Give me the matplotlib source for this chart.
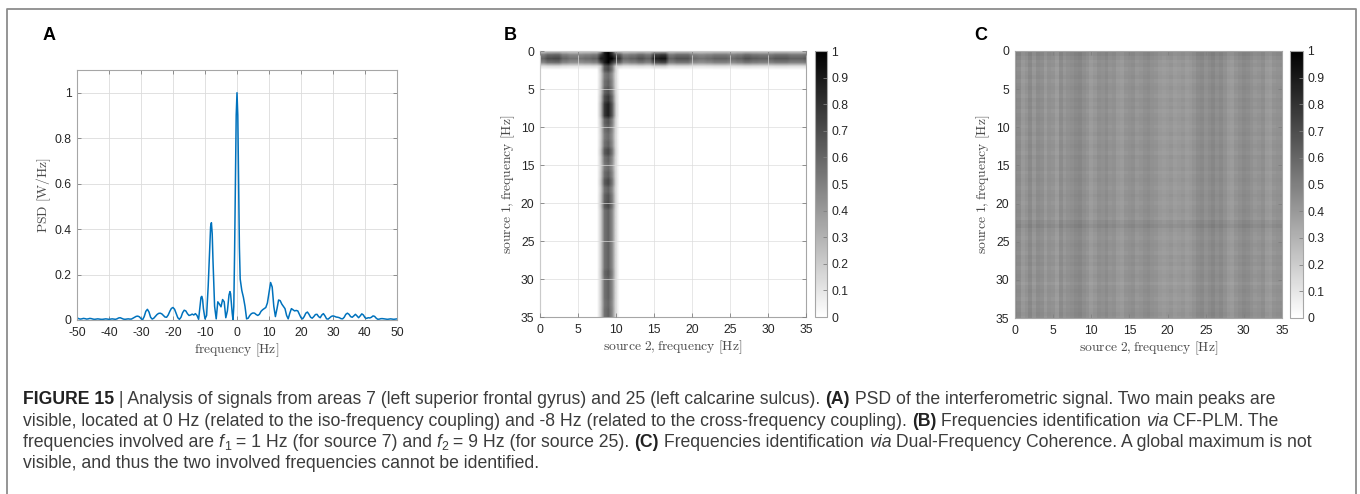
import numpy as np
import matplotlib
matplotlib.use("Agg")
import matplotlib.pyplot as plt
from matplotlib.lines import Line2D

plt.rcParams['mathtext.fontset'] = 'cm'
plt.rcParams['font.family'] = ['Liberation Sans', 'DejaVu Sans']
plt.rcParams['axes.unicode_minus'] = False

W, H = 1360, 494

# ---------------- Panel A data: PSD of interferometric signal ----------------
psd_freq = [-50, -49.5, -49, -48.5, -48, -47.5, -47, -46.5, -46, -45.5, -45, -44.5, -44, -43.5, -43,
            -42.5, -42, -41.5, -41, -40.5, -40, -39.5, -39, -38.5, -38, -37.5, -37, -36.5, -36, -35.5,
            -35, -34.5, -34, -33.5, -33, -32.5, -32, -31.5, -31, -30.5, -30, -29.5, -29, -28.5, -28,
            -27.5, -27, -26.5, -26, -25.5, -25, -24.5, -24, -23.5, -23, -22.5, -22, -21.5, -21, -20.5,
            -20, -19.5, -19, -18.5, -18, -17.5, -17, -16.5, -16, -15.5, -15, -14.5, -14, -13.5, -13,
            -12.5, -12, -11.5, -11.25, -11, -10.75, -10.5, -10, -9.5, -9, -8.5, -8.25, -8, -7.75, -7.5,
            -7, -6.5, -6, -5.5, -5, -4.5, -4, -3.5, -3, -2.5, -2.2, -2, -1.5, -1.25, -1, -0.75, -0.5,
            -0.25, 0, 0.25, 0.5, 0.75, 1, 1.5, 2, 2.5, 3, 3.5, 4, 4.5, 5, 5.5, 6, 6.5, 7, 7.5, 8, 8.5,
            9, 9.5, 10, 10.5, 11, 11.5, 12, 12.5, 13, 13.5, 14, 14.5, 15, 15.5, 16, 16.5, 17, 17.5, 18,
            18.5, 19, 19.5, 20, 20.5, 21, 21.5, 22, 22.5, 23, 23.5, 24, 24.5, 25, 25.5, 26, 26.5, 27,
            27.5, 28, 28.5, 29, 29.5, 30, 30.5, 31, 31.5, 32, 32.5, 33, 33.5, 34, 34.5, 35, 35.5, 36,
            36.5, 37, 37.5, 38, 38.5, 39, 39.5, 40, 40.5, 41, 41.5, 42, 42.5, 43, 43.5, 44, 44.5, 45,
            45.5, 46, 46.5, 47, 47.5, 48, 48.5, 49, 49.5, 50]
psd_value = [0.010, 0.006, 0.004, 0.005, 0.007, 0.006, 0.004, 0.005, 0.007, 0.006, 0.004, 0.003, 0.004,
             0.005, 0.004, 0.003, 0.003, 0.004, 0.005, 0.004, 0.003, 0.004, 0.005, 0.004, 0.003, 0.005,
             0.009, 0.010, 0.007, 0.004, 0.003, 0.004, 0.005, 0.004, 0.004, 0.008, 0.012, 0.016, 0.017,
             0.014, 0.006, 0.001, 0.015, 0.038, 0.047, 0.035, 0.012, 0.004, 0.008, 0.016, 0.024, 0.029,
             0.030, 0.027, 0.020, 0.013, 0.012, 0.022, 0.038, 0.051, 0.055, 0.047, 0.028, 0.010, 0.003,
             0.012, 0.032, 0.043, 0.040, 0.028, 0.020, 0.022, 0.026, 0.022, 0.028, 0.020, 0.003, 0.070,
             0.100, 0.104, 0.090, 0.050, 0.005, 0.020, 0.150, 0.330, 0.410, 0.428, 0.380, 0.260, 0.060,
             0.005, 0.080, 0.070, 0.058, 0.090, 0.080, 0.010, 0.040, 0.110, 0.125, 0.115, 0.030, 0.000,
             0.060, 0.300, 0.620, 0.900, 1.000, 0.900, 0.620, 0.320, 0.180, 0.130, 0.100, 0.060, 0.005,
             0.008, 0.020, 0.028, 0.031, 0.030, 0.024, 0.020, 0.025, 0.038, 0.045, 0.050, 0.055, 0.075,
             0.120, 0.165, 0.145, 0.060, 0.015, 0.050, 0.088, 0.085, 0.070, 0.060, 0.050, 0.020, 0.005,
             0.030, 0.050, 0.045, 0.040, 0.042, 0.040, 0.025, 0.010, 0.005, 0.015, 0.030, 0.035, 0.025,
             0.012, 0.008, 0.015, 0.024, 0.025, 0.015, 0.010, 0.022, 0.028, 0.018, 0.005, 0.004, 0.010,
             0.016, 0.018, 0.016, 0.013, 0.012, 0.010, 0.006, 0.005, 0.012, 0.025, 0.030, 0.025, 0.015,
             0.012, 0.018, 0.025, 0.018, 0.010, 0.018, 0.027, 0.022, 0.010, 0.007, 0.010, 0.009, 0.012,
             0.018, 0.016, 0.008, 0.003, 0.004, 0.006, 0.006, 0.005, 0.004, 0.003, 0.004, 0.005, 0.004,
             0.003, 0.004, 0.005]

# ---------------- Panel B data: CF-PLM map ----------------
# intensity along the horizontal band (source 1 = f1 = 1 Hz) vs source 2 frequency (0..35 Hz)
band_row_intensity = [0.60, 0.70, 0.72, 0.60, 0.55, 0.55, 0.58, 0.62, 0.88, 1.00, 0.78, 0.58, 0.62, 0.68,
                      0.62, 0.88, 0.92, 0.62, 0.68, 0.68, 0.58, 0.55, 0.58, 0.62, 0.62, 0.58, 0.62, 0.68,
                      0.64, 0.62, 0.62, 0.66, 0.66, 0.62, 0.62, 0.66]
# intensity along the vertical band (source 2 = f2 = 9 Hz) vs source 1 frequency (0..35 Hz)
band_col_intensity = [1.00, 1.00, 0.72, 0.58, 0.62, 0.68, 0.78, 0.88, 0.88, 0.68, 0.62, 0.58, 0.62, 0.72,
                      0.62, 0.58, 0.64, 0.72, 0.62, 0.68, 0.72, 0.62, 0.62, 0.62, 0.62, 0.62, 0.62, 0.62,
                      0.62, 0.66, 0.62, 0.62, 0.62, 0.60, 0.62, 0.62]
f1_center, f2_center = 1.0, 9.0
band_offsets = [-1.5, -1.0, -0.5, 0.0, 0.5, 1.0, 1.5]
band_weight_row = [0.0, 0.25, 0.85, 1.00, 0.80, 0.20, 0.0]
band_weight_col = [0.0, 0.30, 0.90, 1.00, 0.75, 0.20, 0.0]

# ---------------- Panel C data: dual-frequency coherence ----------------
dfc_base = 0.42
dfc_col_offset = [0.05, 0.03, -0.02, 0.00, 0.04, -0.01, 0.03, 0.02, -0.02, 0.01, 0.00, -0.03, 0.03,
                  -0.01, 0.01, 0.02, 0.04, 0.05, 0.02, 0.00, -0.03, -0.01, 0.02, 0.01, 0.03, 0.00,
                  0.01, -0.02, -0.03, 0.00, 0.01, 0.02, -0.01, 0.00, 0.02, 0.03, 0.01, 0.00, -0.02,
                  -0.03, -0.02, -0.01, -0.03, -0.02, -0.01, -0.03, -0.02, 0.00, 0.03, 0.04, 0.01,
                  0.03, 0.05, 0.02, 0.04, 0.01, -0.02, -0.03, 0.00, 0.02, 0.04, 0.03, 0.01, -0.01,
                  0.00, 0.02, -0.02, -0.03, 0.00, 0.01, 0.02]
dfc_row_offset = [0.03, 0.04, 0.02, 0.00, 0.01, -0.01, 0.00, 0.01, -0.01, 0.00, 0.01, 0.00, -0.01,
                  0.01, 0.00, 0.01, -0.01, 0.00, 0.01, 0.00, -0.01, 0.00, 0.01, -0.01, 0.00, 0.01,
                  0.00, -0.01, 0.01, 0.00, 0.00, 0.01, -0.01, 0.00, 0.01, 0.00, -0.01, 0.00, 0.01,
                  0.00, -0.01, 0.00, 0.01, 0.00, -0.01, 0.02, 0.04, 0.01, 0.00, -0.01, 0.00, 0.01,
                  0.00, -0.01, 0.01, 0.00, 0.01, -0.01, 0.00, 0.01, 0.00, -0.02, 0.00, 0.01, 0.00,
                  -0.01, 0.01, 0.00, 0.01, 0.02, 0.01]

tick_color = '#262626'
label_color = '#4a4a4a'
frame_color = '#a6a6a6'
grid_color = '#dcdcdc'
TICK_SIZE = 8.7
LABEL_SIZE = 9.8


def style_axes(ax):
    for s in ax.spines.values():
        s.set_color(frame_color)
        s.set_linewidth(0.8)
    ax.tick_params(direction='in', length=3, width=0.6, color='#808080', labelcolor=tick_color,
                   labelsize=TICK_SIZE, top=True, right=True)
    ax.tick_params(axis='x', pad=5)
    ax.tick_params(axis='y', pad=4)


fig = plt.figure(figsize=(W / 100, H / 100), dpi=100)

# outer frame
fig.add_artist(Line2D([7 / W, 7 / W, 1356 / W, 1356 / W], [0, 1 - 9 / H, 1 - 9 / H, 0],
                      transform=fig.transFigure, color='#8c8c8c', lw=1.3))

# ---------------- Panel A ----------------
axA = fig.add_axes([77 / W, 1 - 320 / H, 320 / W, 250 / H])
axA.plot(psd_freq, psd_value, color='#0072BD', lw=1.1)
axA.set_xlim(-50, 50)
axA.set_ylim(0, 1.1)
axA.set_xticks(range(-50, 51, 10))
axA.set_yticks([0, 0.2, 0.4, 0.6, 0.8, 1])
axA.set_yticklabels(['0', '0.2', '0.4', '0.6', '0.8', '1'])
axA.grid(True, color=grid_color, lw=0.6)
axA.set_axisbelow(True)
style_axes(axA)
axA.set_xlabel(r'$\mathrm{frequency\ [Hz]}$', fontsize=LABEL_SIZE, color=label_color, labelpad=2)
axA.set_ylabel(r'$\mathrm{PSD\ [W/Hz]}$', fontsize=LABEL_SIZE, color=label_color, labelpad=1)

# ---------------- Panel B ----------------
fgrid = np.arange(0, 35.01, 0.5)
idx = np.floor(fgrid).astype(int)
row_int = np.array(band_row_intensity)[idx]
col_int = np.array(band_col_intensity)[idx]
w_row = np.interp(fgrid - f1_center, band_offsets, band_weight_row, left=0, right=0)
w_col = np.interp(fgrid - f2_center, band_offsets, band_weight_col, left=0, right=0)
plm = np.maximum(w_row[:, None] * row_int[None, :], col_int[:, None] * w_col[None, :])

axB = fig.add_axes([540 / W, 1 - 317 / H, 266 / W, 266 / H])
imB = axB.imshow(plm, cmap='gray_r', vmin=0, vmax=1, extent=[-0.25, 35.25, 35.25, -0.25],
                 interpolation='bilinear', aspect='auto')
axB.set_xlim(0, 35)
axB.set_ylim(35, 0)
axB.set_xticks(range(0, 36, 5))
axB.set_yticks(range(0, 36, 5))
axB.grid(True, color=grid_color, lw=0.6, alpha=0.8)
axB.set_axisbelow(False)
style_axes(axB)
axB.set_xlabel(r'$\mathrm{source\ 2,frequency\ [Hz]}$', fontsize=LABEL_SIZE, color=label_color, labelpad=2)
axB.set_ylabel(r'$\mathrm{source\ 1,frequency\ [Hz]}$', fontsize=LABEL_SIZE, color=label_color, labelpad=3)

caxB = fig.add_axes([815 / W, 1 - 317 / H, 12 / W, 266 / H])
cbB = fig.colorbar(imB, cax=caxB, ticks=np.arange(0, 1.01, 0.1))
cbB.ax.set_yticklabels(['0', '0.1', '0.2', '0.3', '0.4', '0.5', '0.6', '0.7', '0.8', '0.9', '1'])
cbB.outline.set_edgecolor(frame_color)
cbB.ax.tick_params(direction='in', length=3, width=0.6, color='#808080', labelcolor=tick_color,
                   labelsize=TICK_SIZE, pad=3)

# ---------------- Panel C ----------------
dfc = dfc_base + np.array(dfc_row_offset)[:, None] + np.array(dfc_col_offset)[None, :]
axC = fig.add_axes([1015 / W, 1 - 318 / H, 267 / W, 267 / H])
imC = axC.imshow(dfc, cmap='gray_r', vmin=0, vmax=1, extent=[-0.25, 35.25, 35.25, -0.25],
                 interpolation='nearest', aspect='auto')
axC.set_xlim(0, 35)
axC.set_ylim(35, 0)
axC.set_xticks(range(0, 36, 5))
axC.set_yticks(range(0, 36, 5))
style_axes(axC)
axC.set_xlabel(r'$\mathrm{source\ 2,frequency\ [Hz]}$', fontsize=LABEL_SIZE, color=label_color, labelpad=2)
axC.set_ylabel(r'$\mathrm{source\ 1,frequency\ [Hz]}$', fontsize=LABEL_SIZE, color=label_color, labelpad=3)

caxC = fig.add_axes([1290 / W, 1 - 318 / H, 13 / W, 267 / H])
cbC = fig.colorbar(imC, cax=caxC, ticks=np.arange(0, 1.01, 0.1))
cbC.ax.set_yticklabels(['0', '0.1', '0.2', '0.3', '0.4', '0.5', '0.6', '0.7', '0.8', '0.9', '1'])
cbC.outline.set_edgecolor(frame_color)
cbC.ax.tick_params(direction='in', length=3, width=0.6, color='#808080', labelcolor=tick_color,
                   labelsize=TICK_SIZE, pad=3)

# panel letters
for letter, xp in [('A', 43), ('B', 504), ('C', 974)]:
    fig.text(xp / W, 1 - 36 / H, letter, fontsize=13, fontweight='bold', color='black',
             ha='left', va='center')

# ---------------- Caption ----------------
cap_color = '#3c3c3c'
N = {}
B = {'fontweight': 'bold', 'color': '#222222'}
I = {'fontstyle': 'italic'}
SUB = {'sub': True}

caption_lines = [
    [("FIGURE 15", B), (" | Analysis of signals from areas 7 (left superior frontal gyrus) and 25 (left calcarine sulcus). ", N),
     ("(A)", B), (" PSD of the interferometric signal. Two main peaks are", N)],
    [("visible, located at 0 Hz (related to the iso-frequency coupling) and -8 Hz (related to the cross-frequency coupling). ", N),
     ("(B)", B), (" Frequencies identification ", N), ("via", I), (" CF-PLM. The", N)],
    [("frequencies involved are ", N), ("f", I), ("1", SUB), (" = 1 Hz (for source 7) and ", N), ("f", I), ("2", SUB),
     (" = 9 Hz (for source 25). ", N), ("(C)", B), (" Frequencies identification ", N), ("via", I),
     (" Dual-Frequency Coherence. A global maximum is not", N)],
    [("visible, and thus the two involved frequencies cannot be identified.", N)],
]
baselines = [404, 425.5, 446.5, 467.5]

renderer = fig.canvas.get_renderer()


def text_width(s, size, style):
    kw = {k: v for k, v in style.items() if k != 'sub'}
    t = fig.text(0, 0, '|' + s + '|', fontsize=size, **kw)
    t2 = fig.text(0, 0, '||', fontsize=size, **kw)
    w = t.get_window_extent(renderer).width - t2.get_window_extent(renderer).width
    t.remove()
    t2.remove()
    return w


def draw_line(pieces, y_px, size, do_draw=True):
    x = 23.0
    for s, st in pieces:
        sz = size * 0.7 if st.get('sub') else size
        dy = -3.5 if st.get('sub') else 0
        kw = {k: v for k, v in st.items() if k != 'sub'}
        if 'color' not in kw:
            kw['color'] = cap_color
        if do_draw:
            fig.text(x / W, 1 - (y_px - dy) / H, s, fontsize=sz, ha='left', va='baseline', **kw)
        x += text_width(s, sz, st)
    return x - 23.0


size0 = 10.0
w0 = draw_line(caption_lines[0], baselines[0], size0, do_draw=False)
cap_size = size0 * 1263.0 / w0
for line, yb in zip(caption_lines, baselines):
    draw_line(line, yb, cap_size)

fig.savefig('out.png', dpi=100)
